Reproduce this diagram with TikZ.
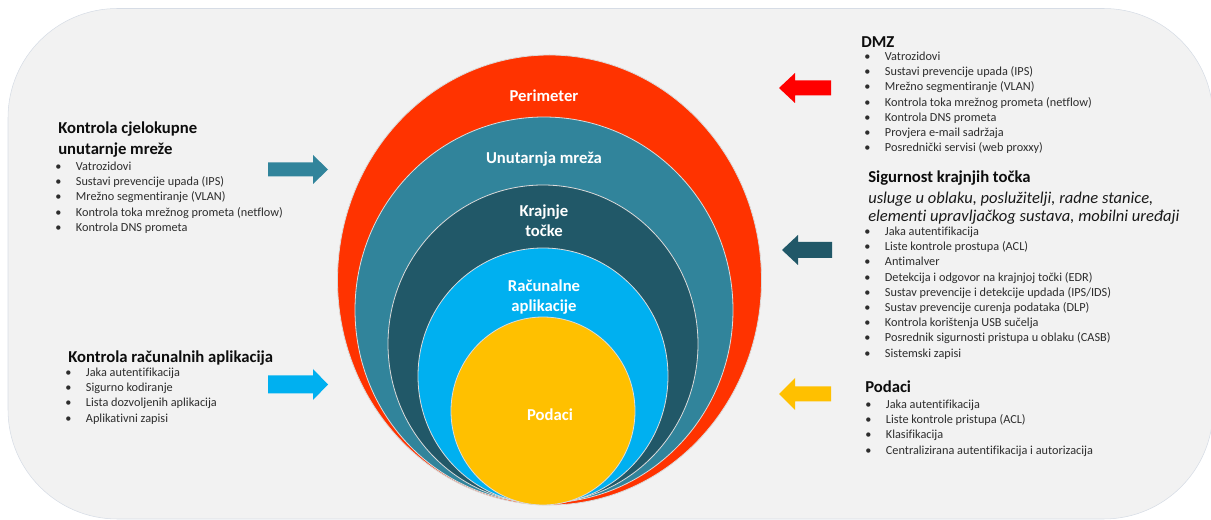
\documentclass[tikz,border=0pt]{standalone}
\usepackage{fontspec}
\setmainfont{Carlito}[Ligatures={NoCommon}]
\usetikzlibrary{positioning}

\definecolor{bgfill}{RGB}{242,242,242}
\definecolor{bgline}{RGB}{214,220,229}
\definecolor{perimred}{RGB}{255,51,0}
\definecolor{netteal}{RGB}{49,132,155}
\definecolor{enddark}{RGB}{33,88,104}
\definecolor{appblue}{RGB}{0,176,240}
\definecolor{datagold}{RGB}{255,192,0}
\definecolor{arrowred}{RGB}{255,0,0}
\definecolor{itemgray}{RGB}{45,45,45}

\newcommand{\itm}[1]{\strut\makebox[15.5pt][l]{\textbullet}#1}

\tikzset{
  ring/.style={draw=white!72!gray, line width=0.6pt},
  ringlabel/.style={text=white, align=center, inner sep=0, font=\fontsize{12.5}{15}\selectfont\bfseries},
  heading/.style={anchor=north west, inner sep=0, align=left, text=black!95, font=\fontsize{12.5}{15.75}\selectfont\bfseries},
  subline/.style={anchor=north west, inner sep=0, align=left, text=black!90, font=\fontsize{12.4}{13.5}\selectfont\itshape},
  bullets/.style={anchor=north west, inner sep=0, align=left, text=itemgray, font=\fontsize{9.2}{11.4}\selectfont},
}

\begin{document}
\begin{tikzpicture}[x=0.75pt,y=0.75pt,yscale=-1,xscale=1]
  \useasboundingbox (0,0) rectangle (1211,520);

  %Background panel
  \draw [draw=bgline, fill=bgfill, rounded corners=82pt] (8,8.5) rectangle (1213,519);

  %Rings
  \draw [ring, fill=perimred] (549.5,280) ellipse [x radius=212, y radius=225];
  \draw [ring, fill=netteal]  (544,310) ellipse [x radius=189, y radius=193];
  \draw [ring, fill=enddark]  (543,344) ellipse [x radius=155, y radius=159];
  \draw [ring, fill=appblue]  (543,376) ellipse [x radius=125, y radius=128];
  \draw [ring, fill=datagold] (543,411) ellipse [x radius=92, y radius=94];

  % Ring labels
  \node [ringlabel] (perimeter) at (544,96) {Perimeter};
  \node [ringlabel] (innernet) at (544,159) {Unutarnja mreža};
  \node [ringlabel] (endpoints) at (544,221) {Krajnje\\točke};
  \node [ringlabel] (apps) at (544,297) {Računalne\\aplikacije};
  \node [ringlabel] (data) at (550,415) {Podaci};

  %Right Arrows
  \fill [netteal] (268,162.5) -- (313,162.5) -- (313,155) -- (328,169.5) -- (313,184) -- (313,176.5) -- (268,176.5) -- cycle;
  \fill [appblue] (268,375.5) -- (313,375.5) -- (313,369) -- (328,384.5) -- (313,400) -- (313,393.5) -- (268,393.5) -- cycle;
  %Left Arrows
  \fill [arrowred] (831,80.5) -- (795,80.5) -- (795,73) -- (779,88) -- (795,103) -- (795,95.5) -- (831,95.5) -- cycle;
  \fill [enddark] (832,242) -- (798,242) -- (798,235) -- (782,250) -- (798,265) -- (798,258) -- (832,258) -- cycle;
  \fill [datagold] (831,386.5) -- (795,386.5) -- (795,378) -- (779,394) -- (795,410) -- (795,401.5) -- (831,401.5) -- cycle;

  % Left texts
  \node [heading] (netctl) at (58,118.8) {\strut Kontrola cjelokupne\\\strut unutarnje mreže};
  \node [bullets] (netlist) at (55,159.5) {\itm{Vatrozidovi}\\\itm{Sustavi prevencije upada (IPS)}\\\itm{Mrežno segmentiranje (VLAN)}\\\itm{Kontrola toka mrežnog prometa (netflow)}\\\itm{Kontrola DNS prometa}};

  \node [heading] (appctl) at (68,347.5) {\strut Kontrola računalnih aplikacija};
  \node [bullets] (applist) at (65,365.5) {\itm{Jaka autentifikacija}\\\itm{Sigurno kodiranje}\\\itm{Lista dozvoljenih aplikacija}\\\itm{Aplikativni zapisi}};

  % Right texts
  \node [heading] (dmz) at (861,32.5) {\strut DMZ};
  \node [bullets] (dmzlist) at (864,49.5) {\itm{Vatrozidovi}\\\itm{Sustavi prevencije upada (IPS)}\\\itm{Mrežno segmentiranje (VLAN)}\\\itm{Kontrola toka mrežnog prometa (netflow)}\\\itm{Kontrola DNS prometa}\\\itm{Provjera e-mail sadržaja}\\\itm{Posrednički servisi (web proxxy)}};

  \node [heading] (endsec) at (868,167.8) {\strut Sigurnost krajnjih točka};
  \node [subline] (endkinds) at (868,190.9) {\strut usluge u oblaku, poslužitelji, radne stanice,\\\strut elementi upravljačkog sustava, mobilni uređaji};
  \node [bullets] (endlist) at (864,224.5) {\itm{Jaka autentifikacija}\\\itm{Liste kontrole prostupa (ACL)}\\\itm{Antimalver}\\\itm{Detekcija i odgovor na krajnjoj točki (EDR)}\\\itm{Sustav prevencije i detekcije updada (IPS/IDS)}\\\itm{Sustav prevencije curenja podataka (DLP)}\\\itm{Kontrola korištenja USB sučelja}\\\itm{Posrednik sigurnosti pristupa u oblaku (CASB)}\\\itm{Sistemski zapisi}};

  \node [heading] (datasec) at (865,377.5) {\strut Podaci};
  \node [bullets] (datalist) at (865,397.5) {\itm{Jaka autentifikacija}\\\itm{Liste kontrole pristupa (ACL)}\\\itm{Klasifikacija}\\\itm{Centralizirana autentifikacija i autorizacija}};

\end{tikzpicture}
\end{document}
